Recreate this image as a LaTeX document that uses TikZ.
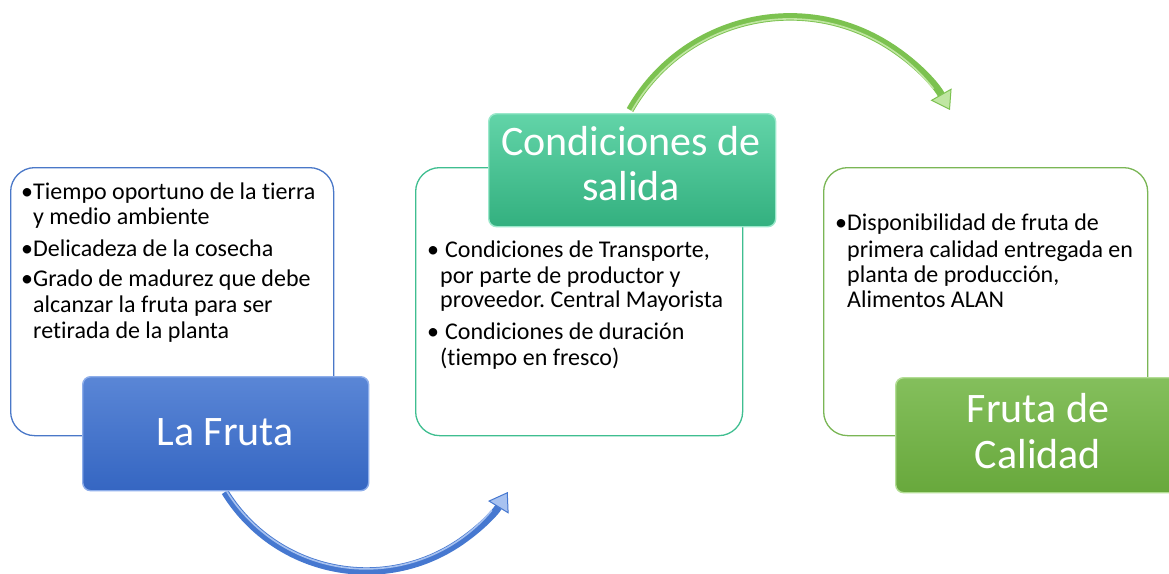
\documentclass[tikz,border=0pt]{standalone}
\usepackage{fontspec}
\setmainfont{Carlito}[Ligatures=NoCommon]
\frenchspacing
\usetikzlibrary{arrows.meta}
\definecolor{bluebord}{HTML}{4A78C8}
\definecolor{tealbord}{HTML}{3FBE90}
\definecolor{greenbord}{HTML}{7AB655}
\definecolor{bluetop}{HTML}{5A86D6}
\definecolor{bluebot}{HTML}{3566C2}
\definecolor{blueedge}{HTML}{8EAEEA}
\definecolor{tealtop}{HTML}{62D4A8}
\definecolor{tealbot}{HTML}{33B07F}
\definecolor{tealedge}{HTML}{9BE8CB}
\definecolor{greentop}{HTML}{84BF5C}
\definecolor{greenbot}{HTML}{68A83C}
\definecolor{greenedge}{HTML}{B3DD95}
\definecolor{arrblue}{HTML}{4678D0}
\definecolor{arrbluehi}{HTML}{A8C2F0}
\definecolor{arrgreen}{HTML}{7CC250}
\definecolor{arrgreenhi}{HTML}{C0E6A2}
\begin{document}
\begin{tikzpicture}[x=1pt,y=-1pt,
  wbox/.style={draw=#1, line width=1.3pt, fill=white, rounded corners=24pt,
    anchor=north west, inner sep=0pt, minimum width=323pt, minimum height=268pt},
  cbox/.style={anchor=north west, inner sep=0pt, rounded corners=8pt, line width=1.4pt},
  title/.style={text=white, font=\fontsize{42}{46}\selectfont, anchor=base, inner sep=0pt},
  body/.style={font=\fontsize{24}{27}\selectfont, anchor=base west, inner sep=0pt},
  arrline/.style={line width=7.5pt, line cap=butt}
]
\useasboundingbox (0,0) rectangle (1169,573);

% white boxes
\node[wbox=bluebord] (w1) at (10,167) {};
\node[wbox=tealbord, minimum width=327pt] (w2) at (415,167) {};
\node[wbox=greenbord, minimum width=324pt] (w3) at (823,167) {};

% arrows
\coordinate (bs) at (225,492);
\coordinate (gs) at (630,110);
\draw[arrline, arrblue, -{Triangle[length=18pt,width=24pt,line width=1pt,fill=arrbluehi]}]
  (bs) arc[start angle=148.4, end angle=31.6, radius=166] coordinate (be);
\draw[line width=1.6pt, arrbluehi] (bs) ++(1.5,-1.2) arc[start angle=148.4, end angle=40, radius=164];
\draw[arrline, arrgreen, -{Triangle[length=18pt,width=24pt,line width=1pt,fill=arrgreenhi]}]
  (gs) arc[start angle=-150.4, end angle=-29.6, radius=184] coordinate (ge);
\draw[line width=1.6pt, arrgreenhi] (gs) ++(1.8,1.0) arc[start angle=-150.4, end angle=-38, radius=182];

% colored boxes
\node[cbox, draw=blueedge, top color=bluetop, bottom color=bluebot,
  minimum width=286pt, minimum height=114pt] (c1) at (82,376) {};
\node[cbox, draw=tealedge, top color=tealtop, bottom color=tealbot,
  minimum width=287pt, minimum height=113pt] (c2) at (488,113) {};
\node[cbox, draw=greenedge, top color=greentop, bottom color=greenbot,
  minimum width=287pt, minimum height=115pt] (c3) at (895,377) {};

% titles
\node[title] (t1) at (225,445) {La Fruta};
\node[title] (t2a) at (631,155) {Condiciones de};
\node[title] (t2b) at (631,200) {salida};
\node[title] (t3a) at (1038,422) {Fruta de};
\node[title] (t3b) at (1038,468) {Calidad};

% left text
\node[body] (l0) at (21,199) {•};
\node[body] (l1) at (33,199) {Tiempo oportuno de la tierra};
\node[body] (l2) at (33,224) {y medio ambiente};
\node[body] (l3b) at (21,256) {•};
\node[body] (l3) at (33,256) {Delicadeza de la cosecha};
\node[body] (l4b) at (21,286) {•};
\node[body] (l4) at (33,286) {Grado de madurez que debe};
\node[body] (l5) at (33,312) {alcanzar la fruta para ser};
\node[body] (l6) at (33,338) {retirada de la planta};

% middle text
\node[body] (m1b) at (427,257) {•};
\node[body] (m1) at (445,257) {Condiciones de Transporte,};
\node[body] (m2) at (440,283) {por parte de productor y};
\node[body] (m3) at (440,307) {proveedor. Central Mayorista};
\node[body] (m4b) at (427,339) {•};
\node[body] (m4) at (445,339) {Condiciones de duración};
\node[body] (m5) at (440,365) {(tiempo en fresco)};

% right text
\node[body] (r1b) at (835,230) {•};
\node[body] (r1) at (847,230) {Disponibilidad de fruta de};
\node[body] (r2) at (847,257) {primera calidad entregada en};
\node[body] (r3) at (847,282) {planta de producción,};
\node[body] (r4) at (847,307) {Alimentos ALAN};
\end{tikzpicture}
\end{document}
